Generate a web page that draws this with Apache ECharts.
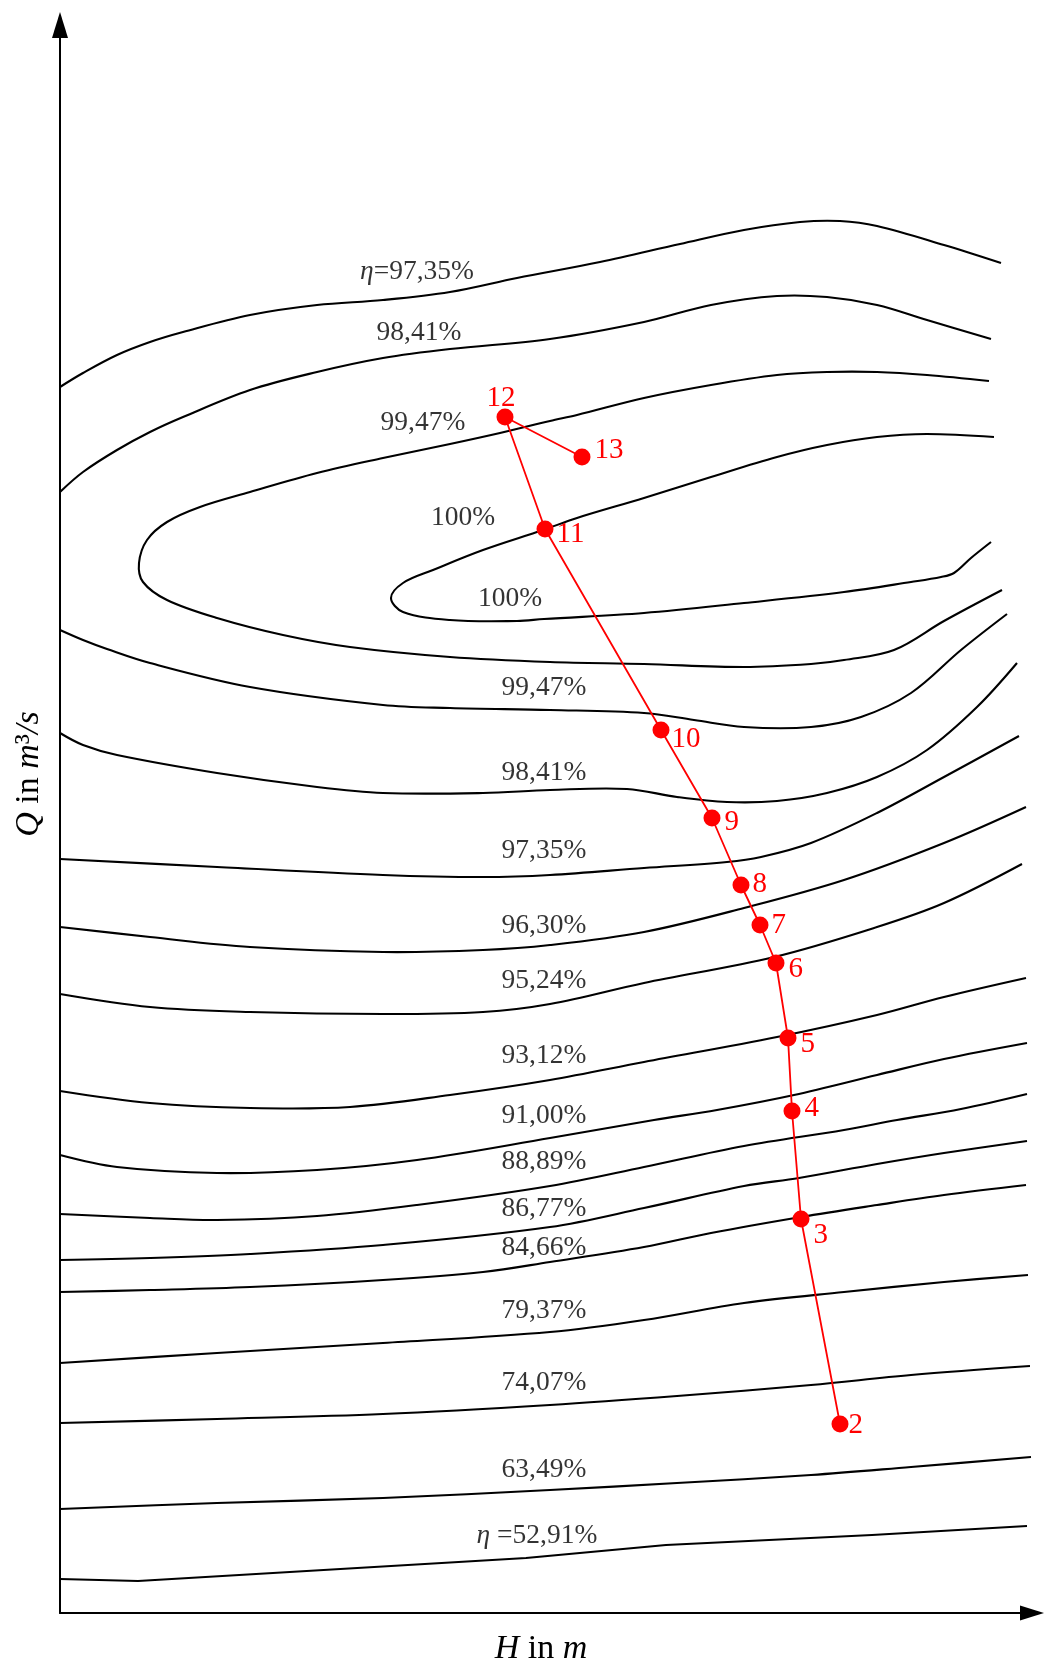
<!DOCTYPE html>
<html>
<head>
<meta charset="utf-8">
<script src="https://cdn.jsdelivr.net/npm/echarts@6/dist/echarts.min.js"></script>
<style>
html,body{margin:0;padding:0;background:#fff;}
#chart{width:1044px;height:1666px;}
</style>
</head>
<body>
<div id="chart"></div>
<script>
// ---- DATA (H, Q in chart units; the original shows no tick values) ----
const eta9735a = [[0,1226],[23,1240],[57,1258],[90,1271],[123,1281],[190,1298],[257,1308],[323,1313],[390,1321],[457,1335],[540,1351],[620,1369],[684,1383],[740,1391],[780,1392],[817,1387],[884,1368],[941,1350]];
const eta9841a = [[0,1121],[23,1141],[57,1163],[90,1181],[123,1196],[190,1223],[257,1241],[323,1255],[390,1264],[490,1274],[584,1291],[651,1308],[717,1317],[767,1316],[817,1308],[867,1293],[931,1274]];
const eta9947a = [[929,1232],[867,1238],[817,1241],[767,1241],[717,1238],[651,1228],[584,1215],[517,1198],[490,1192],[440,1180],[390,1169],[323,1155],[257,1140],[190,1121],[140,1106],[107,1091],[87,1073],[79,1050],[83,1031],[107,1013],[157,995],[223,978],[290,966],[390,956],[490,951],[584,949],[684,946],[751,949],[784,953],[834,963],[884,992],[942,1023]];
const eta100 = [[934,1176],[867,1179],[817,1176],[767,1168],[717,1156],[651,1136],[584,1115],[517,1095],[483,1083],[423,1063],[373,1043],[343,1030],[331,1015],[343,1001],[390,993],[457,992],[484,994],[584,1000],[684,1010],[784,1021],[851,1031],[881,1036],[894,1040],[911,1055],[931,1071]];
const eta9947b = [[0,983],[23,973],[47,964],[90,950],[190,926],[323,908],[390,905],[490,903],[584,900],[634,893],[684,886],[751,886],[801,896],[851,920],[901,963],[947,999]];
const eta9841b = [[0,880],[23,868],[57,858],[157,840],[257,826],[323,820],[423,820],[490,823],[567,824],[617,816],[667,811],[717,812],[767,820],[817,836],[867,863],[917,906],[957,950]];
const eta9735b = [[0,754],[157,746],[323,738],[423,736],[490,738],[584,745],[667,751],[701,756],[751,770],[817,800],[884,836],[959,877]];
const eta9630 = [[0,686],[90,676],[190,666],[323,661],[423,663],[490,668],[584,681],[684,705],[784,733],[884,770],[966,806]];
const eta9524 = [[0,619],[90,606],[190,601],[323,599],[423,601],[490,609],[584,630],[714,656],[817,686],[884,710],[962,749]];
const eta9312 = [[0,522],[90,510],[190,505],[290,506],[390,518],[490,533],[584,551],[717,576],[817,598],[884,616],[966,635]];
const eta9100 = [[0,458],[57,446],[157,440],[257,443],[357,453],[490,475],[594,493],[657,503],[734,518],[817,538],[884,554],[967,570]];
const eta8889 = [[0,399],[90,395],[157,393],[257,397],[357,408],[490,427],[584,446],[684,467],[784,483],[837,493],[901,504],[967,519]];
const eta8677 = [[0,353],[90,355],[190,359],[323,368],[490,386],[584,405],[684,427],[739,435],[817,449],[884,460],[967,472]];
const eta8466 = [[0,321],[90,323],[190,326],[323,333],[423,341],[490,351],[584,366],[651,380],[741,396],[817,408],[884,418],[966,428]];
const eta7937 = [[0,250],[157,260],[323,270],[490,281],[584,293],[684,310],[784,321],[884,331],[968,338]];
const eta7407 = [[0,190],[157,194],[323,199],[490,208],[617,217],[751,228],[851,238],[970,247]];
const eta6349 = [[0,104],[157,110],[323,115],[490,123],[617,130],[751,138],[851,146],[971,156]];
const eta5291 = [[0,34],[78,32],[466,55],[606,68],[812,78],[967,87]];

// operating points 2..13
const opNames = ['2','3','4','5','6','7','8','9','10','11','12','13'];
const opH = [780,741,732,728,716,700,681,652,601,485,445,522];
const opQ = [189,394,502,575,650,688,728,795,883,1084,1196,1156];

// contour labels
const labelText = ['η=97,35%','98,41%','99,47%','100%','100%','99,47%','98,41%','97,35%','96,30%','95,24%','93,12%','91,00%','88,89%','86,77%','84,66%','79,37%','74,07%','63,49%','η =52,91%'];
const labelH = [357,359,363,403,450,484,484,484,484,484,484,484,484,484,484,484,484,484,477];
const labelQ = [1341,1280,1190,1095,1014,925,840,762,687,632,557,497,451,404,365,302,230,143,77];

// axis extents (chart units)
const H_MAX = 972, Q_MAX = 1588;

// ---- build chart ----
const FONT = 'Liberation Serif';
const smoothCurves = [eta9735a, eta9841a, eta9947a, eta100, eta9947b, eta9841b, eta9735b, eta9630, eta9524, eta9312, eta9100, eta8889, eta8677, eta8466, eta7937, eta7407, eta6349];

// Each contour is drawn as one path through its data points, mapped by the grid's axes.
function contourSeries(data, smooth) {
  return {
    type:'custom', coordinateSystem:'cartesian2d', data:data,
    encode:{x:0, y:1}, silent:true, z:2,
    renderItem:function (params, api) {
      if (params.dataIndex !== 0) return null;
      const pts = data.map(p => api.coord(p));
      return {type:'polyline', shape:{points:pts, smooth:smooth},
        style:{stroke:'#000', lineWidth:2.1, fill:'none', lineJoin:'round'}};
    }
  };
}

const series = smoothCurves.map(d => contourSeries(d, 0.35));
series.push(contourSeries(eta5291, 0));

// label offsets for point numbers (style only)
const opLabelStyle = {
  '2':{position:'right', offset:[-4,1]},
  '3':{position:'right', offset:[0,16]},
  '4':{position:'right', offset:[0,-3]},
  '5':{position:'right', offset:[0,6]},
  '6':{position:'right', offset:[0,6]},
  '7':{position:'right', offset:[-1,0]},
  '8':{position:'right', offset:[-1,-1]},
  '9':{position:'right', offset:[0,4]},
  '10':{position:'right', offset:[-2,9]},
  '11':{position:'right', offset:[-1,5]},
  '12':{position:'top', offset:[-4,8]},
  '13':{position:'right', offset:[0,-7]}
};

series.push({
  type:'line',
  data: opNames.map((n,i) => ({name:n, value:[opH[i], opQ[i]], label:opLabelStyle[n]})),
  symbol:'circle', symbolSize:17,
  itemStyle:{color:'#ff0000'},
  lineStyle:{color:'#ff0000', width:1.8},
  label:{show:true, formatter:p=>p.name, color:'#ff0000', fontFamily:FONT, fontSize:29, distance:4},
  silent:true, clip:false, z:5
});

series.push({
  type:'scatter',
  data: labelText.map((t,i) => ({value:[labelH[i], labelQ[i]], t:t})),
  symbol:'circle', symbolSize:1, itemStyle:{color:'rgba(0,0,0,0)'},
  label:{show:true, position:'inside',
    formatter:p=>p.data.t.replace('η','{i|η}'),
    color:'#000', fontFamily:FONT, fontSize:27.5,
    rich:{i:{fontStyle:'italic', fontFamily:FONT, fontSize:27.5, color:'#000'}}},
  silent:true, clip:false, z:6
});

const chart = echarts.init(document.getElementById('chart'), null, {renderer:'canvas'});
chart.setOption({
  animation:false,
  backgroundColor:'#fff',
  grid:{left:60, right:12, top:25, bottom:53},
  xAxis:{type:'value', min:0, max:H_MAX,
    axisLine:{show:true, onZero:false, lineStyle:{color:'#000', width:2}, symbol:['none','triangle'], symbolSize:[15,24]},
    axisTick:{show:false}, axisLabel:{show:false}, splitLine:{show:false}},
  yAxis:{type:'value', min:0, max:Q_MAX,
    axisLine:{show:true, onZero:false, lineStyle:{color:'#000', width:2}, symbol:['none','triangle'], symbolSize:[16,26]},
    axisTick:{show:false}, axisLabel:{show:false}, splitLine:{show:false}},
  graphic:[
    {type:'text', x:541, y:1649, silent:true,
      style:{text:'{i|H} in {i|m}', fill:'#000', fontFamily:FONT, fontSize:34, align:'center', verticalAlign:'middle',
        rich:{i:{fontStyle:'italic', fontFamily:FONT, fontSize:34, fill:'#000'}}}},
    {type:'text', x:29, y:774, rotation:Math.PI/2, silent:true,
      style:{text:'{i|Q} in {i|m}³{i|/s}', fill:'#000', fontFamily:FONT, fontSize:34, align:'center', verticalAlign:'middle',
        rich:{i:{fontStyle:'italic', fontFamily:FONT, fontSize:34, fill:'#000'}}}}
  ],
  series:series
});
</script>
</body>
</html>
